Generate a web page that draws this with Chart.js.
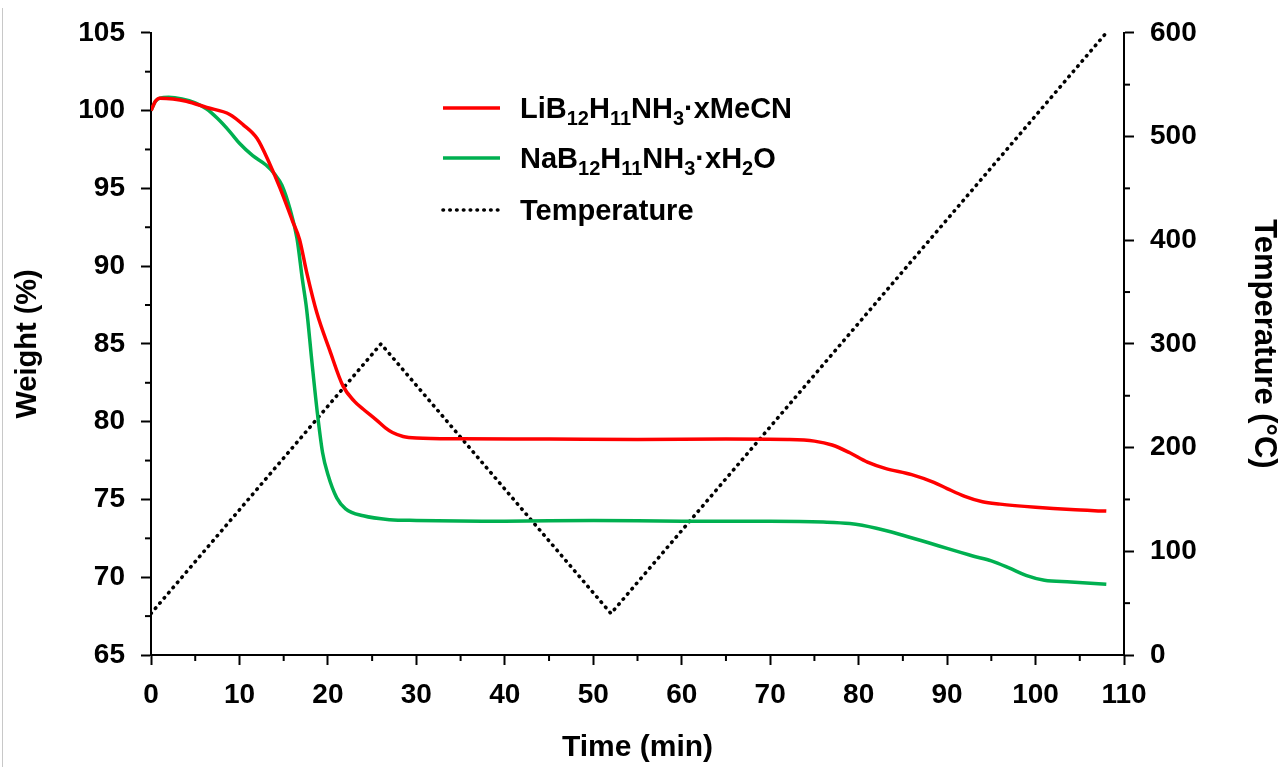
<!DOCTYPE html>
<html>
<head>
<meta charset="utf-8">
<script src="https://cdn.jsdelivr.net/npm/chart.js@4"></script>
<style>
  html, body { margin: 0; padding: 0; background: #fff; }
  #wrap { position: relative; width: 1283px; height: 767px; }
  #edge { position: absolute; left: 2px; top: 8px; width: 1px; height: 759px; background: #c8c8c8; }
  canvas { display: block; }
</style>
</head>
<body>
<div id="wrap">
  <canvas id="c" width="1283" height="767"></canvas>
  <div id="edge"></div>
</div>
<script>
// ---- data ----
const timeLi = [0, 0.5, 1, 2.5, 4, 6.3, 8.9, 10.4, 12, 13.4, 14.6, 16, 16.8, 17.6, 18.75, 20.2, 21.7, 23, 24, 25.5, 26.5, 27.3, 28.5, 30, 35, 45, 55, 65, 72, 75, 77, 79, 81, 83, 86, 88.5, 90, 92, 94, 96, 100, 104, 108];
const weightLi = [100.0, 100.6, 100.8, 100.75, 100.6, 100.2, 99.75, 99.1, 98.2, 96.6, 95.0, 92.9, 91.7, 89.6, 87.0, 84.6, 82.3, 81.3, 80.8, 80.1, 79.6, 79.3, 79.05, 78.95, 78.9, 78.88, 78.85, 78.88, 78.85, 78.75, 78.5, 78.0, 77.4, 77.0, 76.6, 76.1, 75.7, 75.2, 74.85, 74.7, 74.5, 74.35, 74.25];

const timeNa = [0, 0.5, 1, 2, 3.5, 5, 6.3, 7.5, 8.9, 10, 11.5, 13, 14, 14.8, 15.7, 16.5, 17.1, 17.6, 18.2, 18.8, 19.4, 20, 21, 22, 24, 27, 30, 40, 50, 60, 70, 76, 79, 82, 85, 88, 90, 93, 95, 97, 99, 101, 104, 108];
const weightNa = [100.0, 100.6, 100.8, 100.85, 100.75, 100.5, 100.1, 99.5, 98.65, 97.9, 97.1, 96.5, 95.9, 95.2, 93.7, 91.8, 89.2, 87.2, 83.8, 80.6, 78.0, 76.6, 75.1, 74.4, 73.95, 73.7, 73.65, 73.6, 73.65, 73.6, 73.6, 73.55, 73.45, 73.15, 72.7, 72.2, 71.85, 71.35, 71.05, 70.6, 70.1, 69.8, 69.7, 69.55];

const timeT = [0, 26, 52, 108];
const tempT = [40, 300, 40, 600];

const seriesLabels = ['LiB12H11NH3·xMeCN', 'NaB12H11NH3·xH2O', 'Temperature'];
// legend rich text pieces: [text, isSubscript]
const legendPieces = [
  [['LiB', 0], ['12', 1], ['H', 0], ['11', 1], ['NH', 0], ['3', 1], ['·xMeCN', 0]],
  [['NaB', 0], ['12', 1], ['H', 0], ['11', 1], ['NH', 0], ['3', 1], ['·xH', 0], ['2', 1], ['O', 0]],
  [['Temperature', 0]]
];

const xTitle = 'Time (min)';
const yTitle = 'Weight (%)';
const y2Title = 'Temperature (°C)';

const toXY = (xs, ys) => xs.map((x, i) => ({ x: x, y: ys[i] }));

const FONT = "'Liberation Sans', Arial, sans-serif";
const tickFont = { family: FONT, size: 28, weight: 'bold' };

const legendPlugin = {
  id: 'richLegend',
  afterDraw(chart) {
    const ctx = chart.ctx;
    const rows = [108, 158, 210];
    const x0 = 443, x1 = 500, tx = 520;
    ctx.save();
    chart.data.datasets.forEach((ds, i) => {
      const y = rows[i];
      ctx.beginPath();
      ctx.strokeStyle = ds.borderColor;
      ctx.lineWidth = ds.borderWidth;
      ctx.lineCap = ds.borderCapStyle || 'butt';
      ctx.setLineDash(ds.borderDash || []);
      ctx.moveTo(x0, y);
      ctx.lineTo(x1, y);
      ctx.stroke();
      ctx.setLineDash([]);
      let x = tx;
      ctx.fillStyle = '#000';
      ctx.textBaseline = 'alphabetic';
      const base = y + 10;
      legendPieces[i].forEach(([t, sub]) => {
        ctx.font = 'bold ' + (sub ? 20 : 29) + 'px ' + FONT;
        ctx.fillText(t, x, sub ? base + 7 : base);
        x += ctx.measureText(t).width;
      });
    });
    ctx.restore();
  }
};

// short minor ticks drawn separately (major ticks via Chart.js grid)
const minorTickPlugin = {
  id: 'minorTicks',
  afterDraw(chart) {
    const ctx = chart.ctx;
    const len = 6;
    ctx.save();
    ctx.strokeStyle = '#000';
    ctx.lineWidth = 2;
    ['x', 'y', 'y2'].forEach(id => {
      const s = chart.scales[id];
      const stepMajor = id === 'y2' ? 100 : (id === 'y' ? 5 : 10);
      s.ticks.forEach(t => {
        if (t.value % stepMajor === 0) return;
        const p = s.getPixelForValue(t.value);
        ctx.beginPath();
        if (id === 'x') { ctx.moveTo(p, s.top); ctx.lineTo(p, s.top + len); }
        else if (id === 'y') { ctx.moveTo(s.right, p); ctx.lineTo(s.right - len, p); }
        else { ctx.moveTo(s.left, p); ctx.lineTo(s.left + len, p); }
        ctx.stroke();
      });
    });
    ctx.restore();
  }
};

const gridFor = major => ({
  drawOnChartArea: false, drawTicks: true, tickLength: 10, tickWidth: 2, color: '#000',
  tickColor: c => (c.tick && c.tick.value % major === 0 ? '#000' : 'rgba(0,0,0,0)')
});

new Chart(document.getElementById('c'), {
  type: 'line',
  data: {
    datasets: [
      { label: seriesLabels[0], data: toXY(timeLi, weightLi), yAxisID: 'y', borderColor: '#FF0000', borderWidth: 3.5, pointRadius: 0, cubicInterpolationMode: 'monotone', fill: false },
      { label: seriesLabels[1], data: toXY(timeNa, weightNa), yAxisID: 'y', borderColor: '#00B050', borderWidth: 3.5, pointRadius: 0, cubicInterpolationMode: 'monotone', fill: false },
      { label: seriesLabels[2], data: toXY(timeT, tempT), yAxisID: 'y2', borderColor: '#000000', borderWidth: 3.6, borderDash: [0.5, 6.3], borderCapStyle: 'round', pointRadius: 0, tension: 0, fill: false }
    ]
  },
  options: {
    responsive: false,
    animation: false,
    layout: { padding: { top: 28, left: 0, right: 0, bottom: 0 } },
    plugins: { legend: { display: false }, tooltip: { enabled: false } },
    scales: {
      x: {
        type: 'linear', position: 'bottom', min: 0, max: 110,
        afterFit(s) { s.height = 112; },
        ticks: { stepSize: 5, autoSkip: false, maxRotation: 0, color: '#000', font: tickFont, padding: 13,
          callback: v => (v % 10 === 0 ? String(v) : '') },
        grid: gridFor(10),
        border: { display: true, color: '#000', width: 2 },
        title: { display: true, text: xTitle, color: '#000', font: { family: FONT, size: 30, weight: 'bold', lineHeight: 1 }, padding: { top: 0, bottom: 4 } }
      },
      y: {
        type: 'linear', position: 'left', min: 65, max: 105,
        afterFit(s) { s.width = 151; },
        ticks: { stepSize: 2.5, autoSkip: false, color: '#000', font: tickFont, padding: 16,
          callback: v => (v % 5 === 0 ? String(v) : '') },
        grid: gridFor(5),
        border: { display: true, color: '#000', width: 2 },
        title: { display: true, text: yTitle, color: '#000', font: { family: FONT, size: 29, weight: 'bold', lineHeight: 1 }, padding: { top: 13, bottom: 0 } }
      },
      y2: {
        type: 'linear', position: 'right', min: 0, max: 600,
        afterFit(s) { s.width = 159; },
        ticks: { stepSize: 50, autoSkip: false, color: '#000', font: tickFont, padding: 16,
          callback: v => (v % 100 === 0 ? String(v) : '') },
        grid: gridFor(100),
        border: { display: true, color: '#000', width: 2 },
        title: { display: true, text: y2Title, color: '#000', font: { family: FONT, size: 31, weight: 'bold', lineHeight: 1 }, padding: { top: 4, bottom: 0 } }
      }
    }
  },
  plugins: [legendPlugin, minorTickPlugin]
});
</script>
</body>
</html>
